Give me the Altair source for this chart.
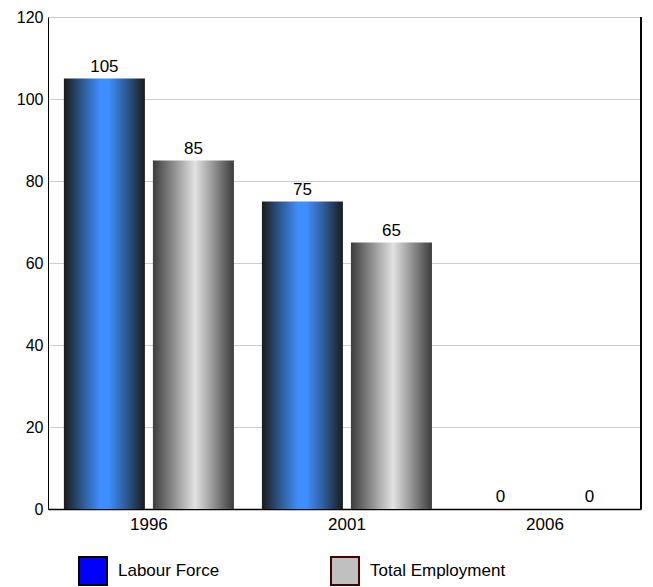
import altair as alt
import pandas as pd

years = ["1996", "2001", "2006"]
series = ["Labour Force", "Total Employment"]
labour = [105, 75, 0]
employment = [85, 65, 0]

rows = []
for i, y in enumerate(years):
    rows.append({"year": y, "series": series[0], "value": labour[i]})
    rows.append({"year": y, "series": series[1], "value": employment[i]})
df = pd.DataFrame(rows)

W, H = 593, 492
FONT = "Liberation Sans"
FS = 17

x_enc = alt.X("year:N", sort=years, title=None,
              scale=alt.Scale(paddingInner=0.1414, paddingOuter=0.068, align=0.59),
              axis=alt.Axis(labelAngle=0, labelFontSize=FS, labelColor="black",
                            labelFont=FONT, ticks=False, domainColor="black",
                            domainWidth=1.5, labelPadding=7))
xo_enc = alt.XOffset("series:N", sort=series,
                     scale=alt.Scale(domain=series, paddingInner=0.09, paddingOuter=0))
y_enc = alt.Y("value:Q", title=None,
              scale=alt.Scale(domain=[0, 120], nice=False),
              axis=alt.Axis(values=[0, 20, 40, 60, 80, 100, 120], labelFontSize=16,
                            labelFont=FONT, labelColor="black", ticks=False,
                            domainColor="black", gridColor="#cccccc", labelPadding=5))

blue_grad = alt.Gradient(gradient="linear", x1=0, x2=1, y1=0, y2=0, stops=[
    alt.GradientStop(color="#1b1b1b", offset=0),
    alt.GradientStop(color="#2f5f9e", offset=0.25),
    alt.GradientStop(color="#3f8eff", offset=0.45),
    alt.GradientStop(color="#3f8eff", offset=0.55),
    alt.GradientStop(color="#2f5f9e", offset=0.75),
    alt.GradientStop(color="#1b1b1b", offset=1),
])
gray_grad = alt.Gradient(gradient="linear", x1=0, x2=1, y1=0, y2=0, stops=[
    alt.GradientStop(color="#3c3c3c", offset=0),
    alt.GradientStop(color="#e2e2e2", offset=0.52),
    alt.GradientStop(color="#3c3c3c", offset=1),
])

base = alt.Chart(df)

bars_lab = base.transform_filter(alt.datum.series == series[0]).mark_bar(
    fill=blue_grad).encode(x=x_enc, xOffset=xo_enc, y=y_enc)
bars_emp = base.transform_filter(alt.datum.series == series[1]).mark_bar(
    fill=gray_grad).encode(x=x_enc, xOffset=xo_enc, y=y_enc)

labels = base.mark_text(dy=-7, baseline="alphabetic", fontSize=FS, font=FONT,
                        color="black").encode(
    x=x_enc, xOffset=xo_enc, y=y_enc, text=alt.Text("value:Q"))

leg = dict(title=None, orient="none", direction="horizontal",
           legendX=30, legendY=539, symbolType="square",
           symbolSize=784, symbolOpacity=1,
           symbolStrokeWidth=2, labelFontSize=FS,
           labelFont=FONT, labelColor="black",
           labelOffset=10, columnPadding=107, padding=0)

legend_layer = base.mark_square(opacity=0, size=0).encode(
    x=x_enc, xOffset=xo_enc, y=y_enc,
    fill=alt.Fill("series:N", sort=series,
                  scale=alt.Scale(domain=series, range=["#0000ff", "#c0c0c0"]),
                  legend=alt.Legend(**leg)),
    stroke=alt.Stroke("series:N", sort=series,
                      scale=alt.Scale(domain=series, range=["#000000", "#4a0000"]),
                      legend=alt.Legend(**leg)),
)

right_border = base.mark_rule(color="black", strokeWidth=1).encode(
    x=alt.value(W), y=alt.value(0), y2=alt.value(H))

chart = alt.layer(bars_lab, bars_emp, labels, legend_layer, right_border).properties(
    width=W, height=H,
    autosize=alt.AutoSizeParams(type="none"),
    padding={"left": 40, "top": 9, "right": 4, "bottom": 78},
).configure_view(stroke=None).configure_axis(gridColor="#cccccc")

chart.save("out.html", embed_options={"renderer": "svg", "actions": False})
